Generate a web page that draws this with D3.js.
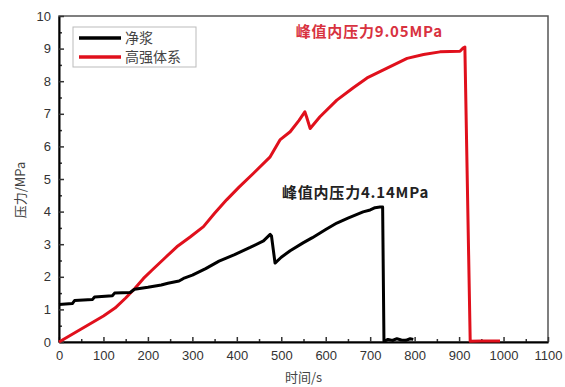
<!DOCTYPE html>
<html>
<head>
<meta charset="utf-8">
<script src="https://cdn.jsdelivr.net/npm/d3@7"></script>
<style>
  body { margin: 0; background: #fff; }
  .tick text { font-family: "Liberation Sans", Arial, sans-serif; font-size: 13px; fill: #333; }
</style>
</head>
<body>
<div id="chart"></div>
<script>
// time (s) and pressure (MPa)
var pasteTime = [0, 30, 35, 75, 80, 120, 125, 160, 170, 200, 230, 245, 270, 280, 300, 330, 360, 395, 430, 460, 475, 478, 486, 500, 520, 549, 570, 600, 625, 650, 684, 700, 711, 722, 728, 731, 740, 750, 760, 770, 780, 790, 797];
var pastePressure = [1.15, 1.18, 1.27, 1.3, 1.38, 1.42, 1.5, 1.52, 1.62, 1.68, 1.75, 1.8, 1.87, 1.95, 2.05, 2.25, 2.48, 2.68, 2.9, 3.1, 3.3, 3.25, 2.42, 2.6, 2.8, 3.04, 3.2, 3.45, 3.65, 3.8, 3.99, 4.05, 4.12, 4.14, 4.14, 0.02, 0.08, 0.05, 0.1, 0.06, 0.05, 0.1, 0.08];

var hsTime = [0, 50, 100, 126, 150, 171, 190, 209, 240, 265, 295, 325, 350, 377, 405, 437, 475, 497, 520, 540, 553, 557, 565, 587, 625, 662, 693, 738, 783, 820, 857, 902, 909, 913, 925, 950, 992];
var hsPressure = [0, 0.4, 0.8, 1.04, 1.35, 1.65, 1.95, 2.2, 2.6, 2.92, 3.22, 3.54, 3.95, 4.36, 4.75, 5.17, 5.68, 6.2, 6.45, 6.8, 7.06, 6.9, 6.55, 6.91, 7.42, 7.8, 8.1, 8.4, 8.7, 8.82, 8.9, 8.92, 9.02, 9.05, 0.02, 0.03, 0.03];

var seriesNames = ["净浆", "高强体系"];
var xTicks = [0, 100, 200, 300, 400, 500, 600, 700, 800, 900, 1000, 1100];
var yTicks = [0, 1, 2, 3, 4, 5, 6, 7, 8, 9, 10];

var svgWidth = 565;
var svgHeight = 387;

var svg = d3.select("#chart")
    .append("svg")
    .attr("width", svgWidth)
    .attr("height", svgHeight);

var margin = { top: 16, right: 17, bottom: 45, left: 59 };
var width = svgWidth - margin.left - margin.right;
var height = svgHeight - margin.top - margin.bottom;

var chartGroup = svg.append("g")
    .attr("transform", `translate(${margin.left}, ${margin.top})`);

var xScale = d3.scaleLinear().domain([0, 1100]).range([0, width]);
var yScale = d3.scaleLinear().domain([0, 10]).range([height, 0]);

// frame on top and right
chartGroup.append("rect")
    .attr("width", width)
    .attr("height", height)
    .attr("fill", "none")
    .attr("stroke", "#555")
    .attr("stroke-width", 1.5);

// minor ticks
chartGroup.append("g")
    .attr("transform", `translate(0, ${height})`)
    .call(d3.axisBottom(xScale).tickValues(d3.range(50, 1100, 100)).tickSize(-3).tickFormat(""))
    .call(g => g.select(".domain").remove());
chartGroup.append("g")
    .call(d3.axisLeft(yScale).tickValues(d3.range(0.5, 10, 1)).tickSize(-3).tickFormat(""))
    .call(g => g.select(".domain").remove());

// major axes
chartGroup.append("g")
    .attr("transform", `translate(0, ${height})`)
    .call(d3.axisBottom(xScale).tickValues(xTicks).tickFormat(d3.format("d"))
        .tickSize(-5).tickPadding(9).tickSizeOuter(0))
    .call(g => g.select(".domain").attr("stroke-width", 2));

chartGroup.append("g")
    .call(d3.axisLeft(yScale).tickValues(yTicks).tickFormat(d3.format("d"))
        .tickSize(-5).tickPadding(8).tickSizeOuter(0))
    .call(g => g.select(".domain").attr("stroke-width", 2));

chartGroup.selectAll(".tick line").attr("stroke", "#333").attr("stroke-width", 1.5);

// lines
var line = d3.line()
    .x(d => xScale(d[0]))
    .y(d => yScale(d[1]));

var pasteData = pasteTime.map((t, i) => [t, pastePressure[i]]);
var hsData = hsTime.map((t, i) => [t, hsPressure[i]]);

chartGroup.append("path")
    .datum(hsData)
    .attr("fill", "none")
    .attr("stroke", "#e0101c")
    .attr("stroke-width", 3)
    .attr("stroke-linejoin", "round")
    .attr("d", line);

chartGroup.append("path")
    .datum(pasteData)
    .attr("fill", "none")
    .attr("stroke", "#000")
    .attr("stroke-width", 3)
    .attr("stroke-linejoin", "round")
    .attr("d", line);

// annotations
chartGroup.append("text")
    .attr("x", xScale(698))
    .attr("y", yScale(9.36))
    .attr("text-anchor", "middle")
    .attr("font-family", "Noto Sans CJK SC")
    .attr("font-weight", "bold")
    .attr("font-size", "15px")
    .attr("letter-spacing", "0.8px")
    .attr("fill", "#d8323f")
    .text("峰值内压力9.05MPa");

chartGroup.append("text")
    .attr("x", xScale(667))
    .attr("y", yScale(4.42))
    .attr("text-anchor", "middle")
    .attr("font-family", "Noto Sans CJK SC")
    .attr("font-weight", "bold")
    .attr("font-size", "15px")
    .attr("letter-spacing", "0.8px")
    .attr("fill", "#222")
    .text("峰值内压力4.14MPa");

// legend
var legend = chartGroup.append("g")
    .attr("transform", "translate(14, 11)");

legend.append("rect")
    .attr("width", 123)
    .attr("height", 40)
    .attr("fill", "#fff")
    .attr("stroke", "#bbb");

var colors = ["#000", "#e0101c"];
seriesNames.forEach(function(name, i) {
    legend.append("line")
        .attr("x1", 6).attr("x2", 48)
        .attr("y1", 11 + i * 19).attr("y2", 11 + i * 19)
        .attr("stroke", colors[i])
        .attr("stroke-width", 3.5);
    legend.append("text")
        .attr("x", 52)
        .attr("y", 16 + i * 19)
        .attr("font-family", "Noto Sans CJK SC")
        .attr("font-size", "14px")
        .attr("fill", "#444")
        .text(name);
});

// axis labels
svg.append("text")
    .attr("x", margin.left + width / 2)
    .attr("y", 382)
    .attr("text-anchor", "middle")
    .attr("font-family", "Noto Sans CJK SC")
    .attr("font-size", "13px")
    .attr("fill", "#444")
    .text("时间/s");

svg.append("text")
    .attr("transform", "rotate(-90)")
    .attr("x", -190)
    .attr("y", 25)
    .attr("text-anchor", "middle")
    .attr("font-family", "Noto Sans CJK SC")
    .attr("font-size", "13px")
    .attr("fill", "#444")
    .text("压力/MPa");
</script>
</body>
</html>
